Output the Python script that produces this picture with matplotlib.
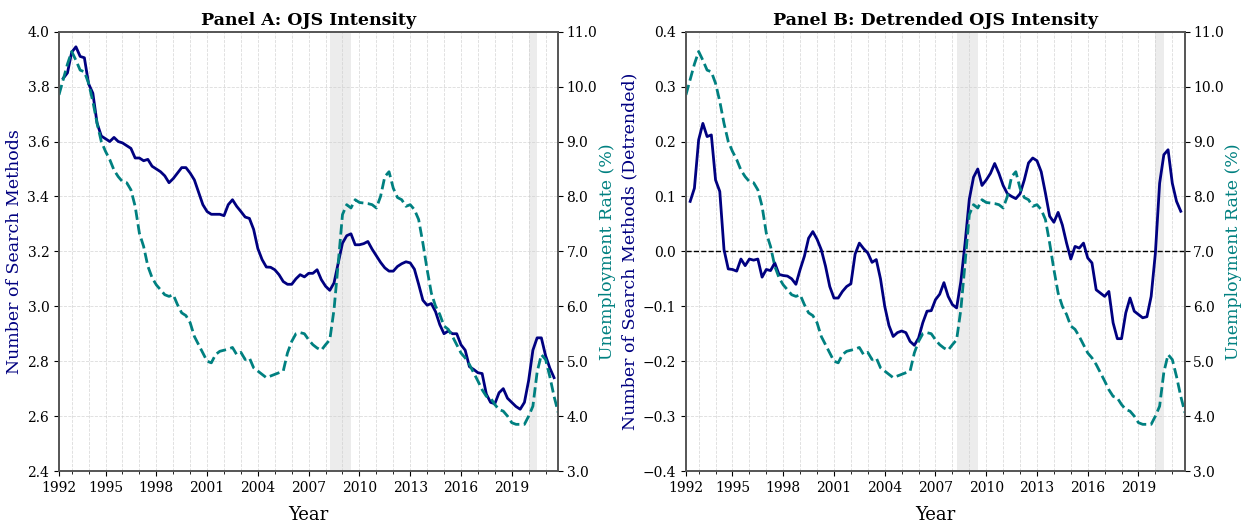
import numpy as np
import matplotlib
matplotlib.use("Agg")
import matplotlib.pyplot as plt
from matplotlib.ticker import FuncFormatter

plt.rcParams['font.family'] = ['DejaVu Serif']

# quarterly dates, 1992Q2 .. 2021Q4 (unemployment); OJS runs 1992Q3 .. 2021Q3
quarters = np.arange(1992.25, 2021.76, 0.25)
ojs_quarters = quarters[1:-1]

unemployment = [
    9.85, 10.13, 10.41, 10.64, 10.48, 10.30, 10.27, 10.06, 9.73, 9.33,
    9.00, 8.82, 8.67, 8.48, 8.36, 8.27, 8.25, 8.12, 7.82, 7.33,
    7.09, 6.73, 6.52, 6.39, 6.30, 6.21, 6.18, 6.21, 6.03, 5.88,
    5.83, 5.70, 5.45, 5.30, 5.15, 5.00, 4.97, 5.12, 5.18, 5.20,
    5.22, 5.25, 5.12, 5.16, 5.03, 5.06, 4.88, 4.82, 4.76, 4.70,
    4.73, 4.76, 4.79, 4.82, 5.15, 5.36, 5.50, 5.52, 5.50, 5.39,
    5.30, 5.24, 5.20, 5.30, 5.39, 5.94, 6.79, 7.67, 7.85, 7.79,
    7.94, 7.89, 7.88, 7.87, 7.85, 7.79, 8.00, 8.36, 8.45, 8.15,
    7.98, 7.94, 7.82, 7.85, 7.76, 7.58, 7.15, 6.67, 6.24, 6.00,
    5.85, 5.64, 5.58, 5.45, 5.30, 5.15, 5.06, 4.94, 4.79, 4.64,
    4.48, 4.36, 4.33, 4.21, 4.12, 4.09, 4.00, 3.88, 3.85, 3.85,
    3.85, 4.00, 4.18, 4.80, 5.12, 5.03, 4.72, 4.36, 4.06,
]

ojs_intensity = [
    3.830, 3.850, 3.925, 3.945, 3.910, 3.905, 3.810, 3.776, 3.667, 3.620,
    3.610, 3.600, 3.615, 3.600, 3.595, 3.585, 3.575, 3.540, 3.540, 3.530,
    3.535, 3.510, 3.500, 3.490, 3.475, 3.450, 3.465, 3.485, 3.505, 3.505,
    3.485, 3.460, 3.415, 3.370, 3.345, 3.335, 3.335, 3.335, 3.330, 3.370,
    3.388, 3.364, 3.345, 3.325, 3.320, 3.280, 3.210, 3.170, 3.143, 3.142,
    3.133, 3.115, 3.090, 3.080, 3.080, 3.100, 3.115, 3.107, 3.120, 3.120,
    3.133, 3.097, 3.073, 3.058, 3.085, 3.158, 3.230, 3.257, 3.264, 3.224,
    3.224, 3.228, 3.236, 3.208, 3.184, 3.160, 3.140, 3.128, 3.128, 3.145,
    3.155, 3.162, 3.158, 3.135, 3.080, 3.022, 3.004, 3.010, 2.980, 2.933,
    2.900, 2.910, 2.900, 2.900, 2.860, 2.840, 2.780, 2.770, 2.758, 2.755,
    2.680, 2.650, 2.645, 2.685, 2.700, 2.665, 2.650, 2.635, 2.625, 2.650,
    2.730, 2.840, 2.885, 2.885, 2.820, 2.775, 2.740,
]

ojs_detrended = [
    0.091, 0.115, 0.203, 0.233, 0.209, 0.212, 0.130, 0.109, 0.003, -0.032,
    -0.033, -0.036, -0.014, -0.026, -0.014, -0.016, -0.014, -0.047, -0.033, -0.035,
    -0.021, -0.042, -0.044, -0.045, -0.050, -0.060, -0.033, -0.009, 0.024, 0.036,
    0.022, 0.003, -0.027, -0.064, -0.085, -0.085, -0.073, -0.064, -0.059, -0.005,
    0.015, 0.005, -0.003, -0.020, -0.015, -0.050, -0.100, -0.135, -0.155, -0.148,
    -0.145, -0.148, -0.164, -0.171, -0.158, -0.130, -0.109, -0.108, -0.088, -0.078,
    -0.057, -0.082, -0.097, -0.103, -0.055, 0.015, 0.095, 0.135, 0.150, 0.120,
    0.130, 0.142, 0.160, 0.142, 0.120, 0.105, 0.100, 0.096, 0.105, 0.130,
    0.161, 0.170, 0.165, 0.145, 0.106, 0.064, 0.053, 0.071, 0.048, 0.015,
    -0.014, 0.009, 0.006, 0.015, -0.012, -0.021, -0.070, -0.076, -0.082, -0.073,
    -0.130, -0.159, -0.159, -0.112, -0.085, -0.109, -0.115, -0.121, -0.119, -0.082,
    -0.003, 0.124, 0.176, 0.185, 0.124, 0.091, 0.073,
]

recessions = [(2008.25, 2009.5), (2020.0, 2020.5)]
tick_years = [1992, 1995, 1998, 2001, 2004, 2007, 2010, 2013, 2016, 2019]

x_min, x_max = quarters[0], quarters[-1]
spine_color = '#555555'


def one_decimal(v, pos):
    s = '{:.1f}'.format(v)
    if s == '-0.0':
        s = '0.0'
    return s.replace('-', '\u2212')


def draw_panel(ax, ojs, title, ylabel, ylim, ystep, zero_line=False):
    for start, end in recessions:
        ax.axvspan(start, end, color='#d0d0d0', alpha=0.4, lw=0, zorder=0)
    ax.plot(ojs_quarters, ojs, color='navy', lw=2, zorder=3)
    if zero_line:
        ax.axhline(0, color='black', ls='--', lw=1, zorder=2)
    ax.set_xlim(x_min, x_max)
    ax.set_ylim(*ylim)
    ax.set_yticks(np.arange(ylim[0], ylim[1] + ystep / 2, ystep))
    ax.yaxis.set_major_formatter(FuncFormatter(one_decimal))
    # first label sits on the left edge of the axis
    ax.set_xticks([x_min] + tick_years[1:])
    ax.set_xticklabels([str(y) for y in tick_years])
    ax.set_xticks(range(1993, 2022), minor=True)
    ax.grid(True, which='major', color='#cccccc', lw=0.6, ls='--', alpha=0.7)
    ax.grid(True, which='minor', axis='x', color='#cccccc', lw=0.6, ls='--', alpha=0.7)
    ax.set_axisbelow(True)
    ax.tick_params(labelsize=10)
    ax.set_title(title, fontsize=12.5, fontweight='bold', pad=5)
    ax.set_xlabel('Year', fontsize=13, labelpad=8)
    ax.set_ylabel(ylabel, color='navy', fontsize=12.5, labelpad=3)

    ax2 = ax.twinx()
    ax2.plot(quarters, unemployment, color='teal', ls='--', lw=2)
    ax2.set_ylim(3, 11)
    ax2.set_yticks(np.arange(3, 11.5, 1))
    ax2.yaxis.set_major_formatter(FuncFormatter(one_decimal))
    ax2.tick_params(labelsize=10, pad=2.5)
    ax2.set_ylabel('Unemployment Rate (%)', color='teal', fontsize=12.5, labelpad=1)
    for a in (ax, ax2):
        for s in a.spines.values():
            s.set_color(spine_color)
            s.set_linewidth(1.2)
    return ax2


fig = plt.figure(figsize=(12.42, 5.23), dpi=100)
ax_a = fig.add_axes([0.0475, 0.0994, 0.402, 0.8400])
ax_b = fig.add_axes([0.5523, 0.0994, 0.4018, 0.8400])

draw_panel(ax_a, ojs_intensity, 'Panel A: OJS Intensity',
           'Number of Search Methods', (2.4, 4.0), 0.2)
draw_panel(ax_b, ojs_detrended, 'Panel B: Detrended OJS Intensity',
           'Number of Search Methods (Detrended)', (-0.4, 0.4), 0.1, zero_line=True)

fig.savefig('out.png', dpi=100)
